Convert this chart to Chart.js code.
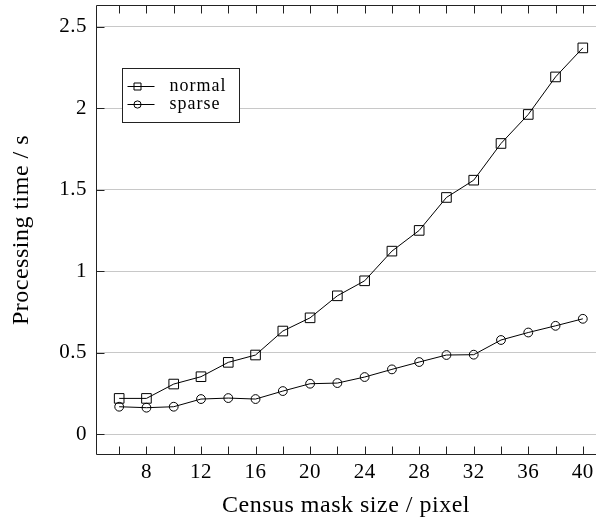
<!DOCTYPE html>
<html>
<head>
<meta charset="utf-8">
<script src="https://cdn.jsdelivr.net/npm/chart.js@4/dist/chart.umd.min.js"></script>
<style>
  html, body { margin: 0; padding: 0; background: #fff; overflow: hidden; }
  #wrap { width: 596px; height: 521px; }
</style>
</head>
<body>
<div id="wrap"><canvas id="c" width="596" height="521"></canvas></div>
<script>
// ---- data ----
const maskSizes = [6, 8, 10, 12, 14, 16, 18, 20, 22, 24, 26, 28, 30, 32, 34, 36, 38, 40];
const normalTimes = [0.22, 0.22, 0.308, 0.353, 0.441, 0.486, 0.633, 0.714, 0.849, 0.941, 1.123, 1.25, 1.452, 1.558, 1.783, 1.961, 2.191, 2.369];
const sparseTimes = [0.169, 0.163, 0.169, 0.216, 0.222, 0.216, 0.265, 0.31, 0.314, 0.351, 0.398, 0.443, 0.486, 0.488, 0.578, 0.624, 0.665, 0.708];
const seriesNames = ['normal', 'sparse'];
const xTickMarks = [6, 8, 10, 12, 14, 16, 18, 20, 22, 24, 26, 28, 30, 32, 34, 36, 38, 40];
const xTickLabels = [8, 12, 16, 20, 24, 28, 32, 36, 40];
const yTickValues = [0, 0.5, 1, 1.5, 2, 2.5];
const yTickLabels = ['0', '0.5', '1', '1.5', '2', '2.5'];
const xTitle = 'Census mask size / pixel';
const yTitle = 'Processing time / s';

const FONT = "'Liberation Serif', 'Times New Roman', serif";
const FRAME = '#222';

const toPoints = (ys) => maskSizes.map((x, i) => ({ x: x, y: ys[i] }));

const spacingPlugin = {
  id: 'spacing',
  beforeDraw(chart) { try { chart.ctx.letterSpacing = '0.5px'; } catch (e) {} }
};

const framePlugin = {
  id: 'frame',
  afterDatasetsDraw(chart) {
    const ctx = chart.ctx, a = chart.chartArea;
    const xs = chart.scales.x, ys = chart.scales.y;
    const L = Math.round(a.left) + 0.5, R = Math.round(a.right);
    const T = Math.round(a.top) + 0.5, B = Math.round(a.bottom) - 0.5;
    ctx.save();
    ctx.strokeStyle = FRAME;
    ctx.lineWidth = 1;
    ctx.beginPath();
    const tl = 8;
    xTickMarks.forEach(v => {
      const px = Math.round(xs.getPixelForValue(v)) + 0.5;
      ctx.moveTo(px, B); ctx.lineTo(px, B - tl);
      ctx.moveTo(px, T); ctx.lineTo(px, T + tl);
    });
    yTickValues.forEach(v => {
      const py = Math.round(ys.getPixelForValue(v)) + 0.5;
      ctx.moveTo(L, py); ctx.lineTo(L + tl, py);
    });
    // left, top and bottom frame lines; the right side falls just outside the window
    ctx.moveTo(R, T); ctx.lineTo(L, T); ctx.lineTo(L, B); ctx.lineTo(R, B);
    ctx.stroke();
    ctx.restore();
  }
};

const legendPlugin = {
  id: 'boxLegend',
  afterDraw(chart) {
    const ctx = chart.ctx, a = chart.chartArea;
    const bx = Math.round(a.left) + 26.5, by = Math.round(a.top) + 63.5, bw = 117, bh = 54;
    ctx.save();
    ctx.fillStyle = '#fff';
    ctx.fillRect(bx, by, bw, bh);
    ctx.strokeStyle = FRAME;
    ctx.lineWidth = 1;
    ctx.strokeRect(bx, by, bw, bh);
    chart.data.datasets.forEach((ds, i) => {
      const y = Math.round(by + 17 + i * 18) + 0.5;
      const x0 = bx + 5, x1 = bx + 32, mx = bx + 15;
      ctx.strokeStyle = '#000';
      ctx.lineWidth = 1;
      ctx.beginPath();
      ctx.moveTo(x0, y); ctx.lineTo(x1, y);
      ctx.stroke();
      ctx.beginPath();
      if (ds.pointStyle === 'rect') {
        ctx.rect(mx - 3.5, y - 3.5, 7, 7);
      } else {
        ctx.arc(mx, y, 3.6, 0, Math.PI * 2);
      }
      ctx.stroke();
      ctx.fillStyle = '#000';
      try { ctx.letterSpacing = '1px'; } catch (e) {}
      ctx.font = "18px " + FONT;
      ctx.textBaseline = 'middle';
      ctx.textAlign = 'left';
      ctx.fillText(ds.label, bx + 47, y);
    });
    ctx.restore();
  }
};

new Chart(document.getElementById('c'), {
  type: 'line',
  data: {
    datasets: [
      {
        label: seriesNames[0],
        data: toPoints(normalTimes),
        borderColor: '#000',
        borderWidth: 1,
        pointStyle: 'rect',
        pointRadius: 6.8,
        pointHoverRadius: 6.8,
        pointBorderColor: '#000',
        pointBackgroundColor: 'rgba(0,0,0,0)',
        pointBorderWidth: 1,
        tension: 0,
        fill: false
      },
      {
        label: seriesNames[1],
        data: toPoints(sparseTimes),
        borderColor: '#000',
        borderWidth: 1,
        pointStyle: 'circle',
        pointRadius: 4.4,
        pointHoverRadius: 4.4,
        pointBorderColor: '#000',
        pointBackgroundColor: 'rgba(0,0,0,0)',
        pointBorderWidth: 1,
        tension: 0,
        fill: false
      }
    ]
  },
  options: {
    responsive: false,
    animation: false,
    devicePixelRatio: 1,
    events: [],
    layout: { autoPadding: false, padding: { top: 5, right: 0, left: 0, bottom: 0 } },
    plugins: {
      legend: { display: false },
      tooltip: { enabled: false }
    },
    scales: {
      x: {
        type: 'linear',
        min: 4.3,
        max: 40.967,
        grid: { display: false, drawTicks: false },
        border: { display: false },
        afterBuildTicks: (s) => { s.ticks = xTickMarks.map(v => ({ value: v })); },
        afterFit: (s) => { s.height = 66; s.paddingLeft = 0; s.paddingRight = 0; },
        ticks: {
          autoSkip: false,
          maxRotation: 0,
          minRotation: 0,
          padding: 4.5,
          color: '#000',
          font: { family: FONT, size: 21 },
          callback: (v) => xTickLabels.includes(v) ? String(v) : ''
        },
        title: {
          display: true,
          text: xTitle,
          color: '#000',
          font: { family: FONT, size: 24 },
          padding: { top: 0, bottom: 1 }
        }
      },
      y: {
        type: 'linear',
        min: -0.127,
        max: 2.632,
        grid: { display: true, drawTicks: false, color: '#c8c8c8', lineWidth: 1 },
        border: { display: false },
        afterBuildTicks: (s) => { s.ticks = yTickValues.map(v => ({ value: v })); },
        afterFit: (s) => { s.width = 96; s.paddingTop = 0; s.paddingBottom = 0; },
        ticks: {
          padding: 9,
          color: '#000',
          font: { family: FONT, size: 21 },
          callback: (v) => { const i = yTickValues.indexOf(v); return i >= 0 ? yTickLabels[i] : ''; }
        },
        title: {
          display: true,
          text: yTitle,
          color: '#000',
          font: { family: FONT, size: 24 },
          padding: { top: 7.7, bottom: 0 }
        }
      }
    }
  },
  plugins: [spacingPlugin, framePlugin, legendPlugin]
});
</script>
</body>
</html>
